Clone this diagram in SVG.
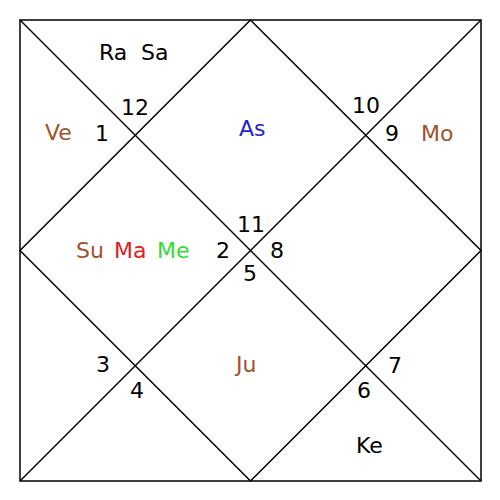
<svg xmlns="http://www.w3.org/2000/svg" width="500" height="500" viewBox="0 0 500 500">
<style>
.l{stroke:#000;stroke-width:1.5;fill:none}
text{font-family:"DejaVu Sans",sans-serif;font-size:22px;fill:#000}
.br{fill:#a0522d}.rd{fill:#dd2222}.gr{fill:#33dd33}.bl{fill:#2222cc}
</style>
<rect width="500" height="500" fill="#fff"/>
<g id="connectors">
<rect class="l" x="20" y="20" width="461" height="461"/>
<line class="l" x1="20" y1="20" x2="481" y2="481"/>
<line class="l" x1="481" y1="20" x2="20" y2="481"/>
<polygon class="l" points="250.5,20 481,250.5 250.5,481 20,250.5"/>
</g>
<g id="h12"><text x="121" y="115">12</text><text x="99" y="60">Ra</text><text x="141" y="60">Sa</text></g>
<g id="h1"><text x="95" y="141">1</text><text class="br" x="45" y="140">Ve</text><text class="bl" x="239" y="136">As</text></g>
<g id="h10"><text x="352" y="113">10</text></g>
<g id="h9"><text x="385" y="141">9</text><text class="br" x="421" y="141">Mo</text></g>
<g id="h11"><text x="237" y="232">11</text></g>
<g id="h2"><text x="216" y="258">2</text><text class="br" x="76" y="258">Su</text><text class="rd" x="114" y="258">Ma</text><text class="gr" x="157" y="258">Me</text></g>
<g id="h8"><text x="270" y="258">8</text></g>
<g id="h5"><text x="243" y="281">5</text></g>
<g id="h3"><text x="96" y="372">3</text></g>
<g id="h4"><text x="130" y="398">4</text></g>
<g id="h7"><text x="388" y="373">7</text></g>
<g id="h6"><text x="357" y="398">6</text><text class="br" x="236" y="372">Ju</text></g>
<g id="hKe"><text x="356" y="453">Ke</text></g>
</svg>
